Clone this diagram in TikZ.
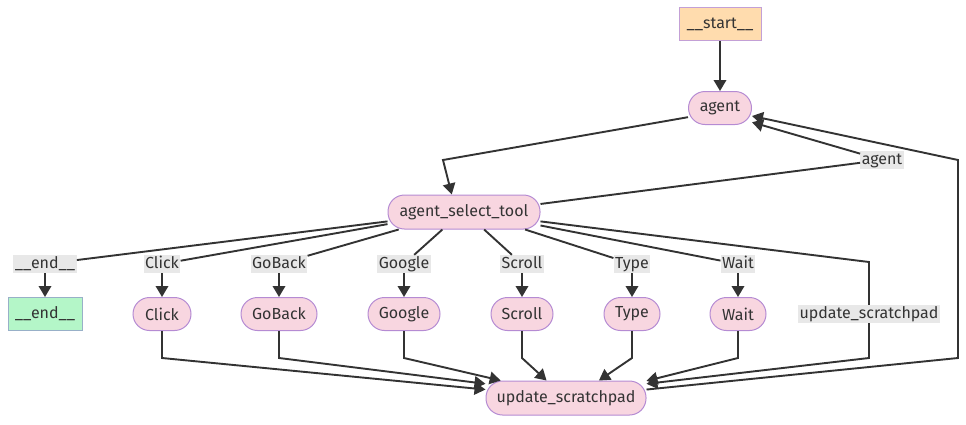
\documentclass[tikz,border=0pt]{standalone}
\usepackage{fontspec}
\setmainfont{Fira Sans}
\usetikzlibrary{arrows.meta}
\definecolor{ink}{HTML}{333333}
\definecolor{pillfill}{HTML}{F8D6E0}
\definecolor{pillstroke}{HTML}{B58BD3}
\definecolor{startfill}{HTML}{FFDCAE}
\definecolor{startstroke}{HTML}{C3A0D6}
\definecolor{endfill}{HTML}{B4F6C8}
\definecolor{endstroke}{HTML}{98B0C8}
\definecolor{lblbg}{HTML}{E8E8E8}
\begin{document}
\begin{tikzpicture}[x=1pt,y=-1pt,
  font=\fontsize{16}{19}\selectfont,
  pill/.style={draw=pillstroke, fill=pillfill, rounded corners=16.5pt, minimum height=33pt, line width=1pt, text=ink, inner xsep=0pt},
  startbox/.style={draw=startstroke, fill=startfill, minimum height=33pt, line width=1pt, text=ink, inner xsep=0pt},
  endbox/.style={draw=endstroke, fill=endfill, minimum height=33pt, line width=1pt, text=ink, inner xsep=0pt},
  elabel/.style={fill=lblbg, inner xsep=1.5pt, inner ysep=1pt, text=ink, text height=12pt, text depth=4pt},
  edge/.style={draw=ink, line width=1.9pt},
  arr/.style={edge, -{Triangle[length=11pt,width=12.5pt]}},
]
\useasboundingbox (0,0) rectangle (966,424);

% nodes
\node[startbox, minimum width=82pt] (start) at (720,24) {\_\_start\_\_};
\node[pill, minimum width=63pt] (agent) at (720,108) {agent};
\node[pill, minimum width=152pt, minimum height=34pt] (sel) at (464,212) {agent\_select\_tool};
\node[endbox, minimum width=74pt] (end) at (45,314) {\_\_end\_\_};
\node[pill, minimum width=58pt] (click) at (162,314) {Click};
\node[pill, minimum width=76pt] (goback) at (279,314) {GoBack};
\node[pill, minimum width=72pt] (google) at (404,314) {Google};
\node[pill, minimum width=62pt] (scroll) at (522,314) {Scroll};
\node[pill, minimum width=56pt] (type) at (632,314) {Type};
\node[pill, minimum width=56pt] (wait) at (738,314) {Wait};
\node[pill, minimum width=160pt, minimum height=34pt] (upd) at (566,398) {update\_scratchpad};

% edge labels
\node[elabel] (lend) at (45,264) {\_\_end\_\_};
\node[elabel] (lclick) at (162,264) {Click};
\node[elabel] (lgoback) at (279,264) {GoBack};
\node[elabel] (lgoogle) at (404,264) {Google};
\node[elabel] (lscroll) at (522,264) {Scroll};
\node[elabel] (ltype) at (632,264) {Type};
\node[elabel] (lwait) at (738,264) {Wait};
\node[elabel] (lupd) at (869,314) {update\_scratchpad};
\node[elabel] (lagent) at (882,160) {agent};

% bend coordinates
\coordinate (a1) at (443,160);
\coordinate (u1) at (869,262);
\coordinate (u2) at (869,358);
\coordinate (r1) at (958,358);
\coordinate (r2) at (958,160);
\coordinate (bclick) at (162,358);
\coordinate (bgoback) at (279,358);
\coordinate (bgoogle) at (404,358);
\coordinate (bscroll) at (522,358);
\coordinate (btype) at (632,358);
\coordinate (bwait) at (738,358);

% edges
\draw[arr] (start) -- (agent);
\draw[arr] (agent.196.7) -- (a1) -- (sel.125.2);
\draw[edge] (sel.6.9) -- (lagent);
\draw[arr] (lagent) -- (agent.-24);
\draw[arr] (upd.6.4) -- (r1) -- (r2) -- (agent.-14);

\draw[edge] (sel.187.5) -- (lend);
\draw[arr] (lend) -- (end);
\draw[edge] (sel.189.6) -- (lclick);
\draw[arr] (lclick) -- (click);
\draw[edge] (sel.195.3) -- (lgoback);
\draw[arr] (lgoback) -- (goback);
\draw[edge] (sel.219) -- (lgoogle);
\draw[arr] (lgoogle) -- (google);
\draw[edge] (sel.-41.8) -- (lscroll);
\draw[arr] (lscroll) -- (scroll);
\draw[edge] (sel.-16.9) -- (ltype);
\draw[arr] (ltype) -- (type);
\draw[edge] (sel.-10) -- (lwait);
\draw[arr] (lwait) -- (wait);
\draw[arr] (sel.-7.7) -- (u1) -- (lupd) -- (u2) -- (upd.10.6);

\draw[arr] (click) -- (bclick) -- (upd.174);
\draw[arr] (goback) -- (bgoback) -- (upd.170);
\draw[arr] (google) -- (bgoogle) -- (upd.165.6);
\draw[arr] (scroll) -- (bscroll) -- (upd.138);
\draw[arr] (type) -- (btype) -- (upd.28.7);
\draw[arr] (wait) -- (bwait) -- (upd.12.6);
\end{tikzpicture}
\end{document}
